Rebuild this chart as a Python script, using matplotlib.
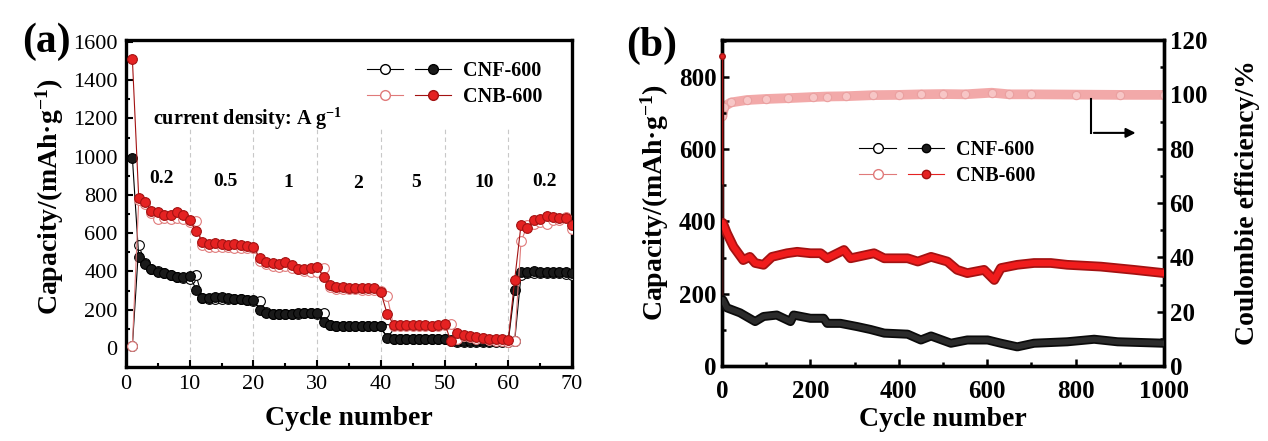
import matplotlib
matplotlib.use("Agg")
import matplotlib.pyplot as plt
from matplotlib.lines import Line2D
from matplotlib.legend_handler import HandlerTuple
from matplotlib.ticker import MultipleLocator

plt.rcParams['font.family'] = ['Liberation Serif', 'DejaVu Serif']
plt.rcParams['font.weight'] = 'bold'
plt.rcParams['mathtext.fontset'] = 'custom'
plt.rcParams['mathtext.rm'] = 'Liberation Serif:bold'
plt.rcParams['mathtext.it'] = 'Liberation Serif:bold'
plt.rcParams['mathtext.bf'] = 'Liberation Serif:bold'

# ---- panel (a): rate performance ----
cycles_a = list(range(1, 71))
cnf_dis = [995, 475, 440, 410, 398, 390, 380, 372, 372, 378,
           305, 262, 262, 265, 265, 260, 258, 255, 252, 248,
           200, 180, 178, 176, 176, 178, 182, 182, 182, 180,
           135, 118, 115, 115, 115, 115, 115, 115, 115, 112,
           52, 46, 45, 45, 45, 45, 45, 45, 45, 45,
           38, 36, 35, 35, 35, 35, 35, 35, 35, 35,
           305, 395, 395, 400, 398, 395, 395, 395, 398, 392]
cnf_chg = [10, 537, 445, 415, 400, 392, 382, 372, 365, 362,
           380, 260, 258, 258, 257, 256, 255, 254, 252, 245,
           245, 185, 178, 178, 177, 178, 178, 180, 180, 178,
           182, 122, 115, 115, 115, 115, 115, 115, 114, 114,
           100, 48, 45, 45, 45, 45, 45, 45, 45, 45,
           40, 32, 32, 32, 32, 32, 32, 32, 32, 32,
           35, 380, 390, 392, 392, 390, 390, 390, 388, 380]
cnb_dis = [1510, 783, 763, 715, 710, 696, 693, 710, 693, 667,
           612, 554, 545, 548, 545, 540, 545, 538, 535, 530,
           468, 450, 442, 440, 450, 435, 415, 410, 418, 425,
           369, 329, 318, 316, 315, 314, 313, 312, 312, 290,
           177, 122, 122, 121, 120, 118, 118, 115, 122, 127,
           36, 78, 69, 61, 55, 50, 48, 46, 45, 43,
           355, 644, 628, 667, 675, 690, 685, 680, 680, 641]
cnb_chg = [12, 771, 750, 705, 675, 680, 672, 678, 675, 660,
           664, 540, 530, 528, 525, 525, 522, 522, 520, 520,
           455, 440, 430, 425, 430, 420, 410, 400, 395, 395,
           419, 318, 308, 308, 306, 306, 305, 305, 305, 300,
           270, 112, 112, 112, 114, 112, 114, 115, 116, 118,
           125, 45, 60, 55, 45, 50, 40, 35, 35, 30,
           35, 557, 640, 650, 660, 650, 670, 670, 685, 624]
rate_labels = ['0.2', '0.5', '1', '2', '5', '10', '0.2']
rate_x = [5.5, 15.6, 25.4, 36.5, 45.6, 56.2, 65.7]
rate_y = [885, 870, 865, 860, 865, 865, 870]
step_lines = [10, 20, 30, 40, 50, 60]

# ---- panel (b): long cycling at high rate ----
cyc_b = [1, 2, 11, 26, 48, 63, 75, 94, 113, 147, 170, 200, 223, 238, 276, 291,
         344, 367, 420, 443, 473, 510, 532, 555, 593, 616, 631, 668, 706, 744,
         781, 857, 932, 1000]
cnb_cap = [858, 396, 368, 330, 293, 302, 285, 280, 302, 312, 316, 312, 312, 298,
           321, 298, 312, 298, 298, 289, 302, 289, 266, 257, 266, 238, 271, 280,
           285, 285, 280, 275, 266, 257]
cyc_b2 = [1, 2, 11, 41, 75, 94, 124, 155, 162, 200, 230, 238, 268, 306, 336, 367,
          420, 450, 473, 518, 555, 601, 631, 668, 706, 781, 842, 895, 1000]
cnf_cap = [500, 183, 161, 147, 123, 137, 141, 123, 141, 132, 132, 118, 118, 109,
           101, 91, 88, 72, 83, 63, 72, 72, 63, 53, 63, 67, 74, 67, 63]
cyc_ce = [1, 5, 20, 56, 100, 150, 206, 237, 280, 342, 400, 450, 500, 550, 610,
          650, 700, 800, 900, 1000]
cnb_ce = [92, 95.5, 97, 97.9, 98.3, 98.6, 99, 99.2, 99.3, 99.7, 99.8, 100, 100.1,
          100, 100.6, 100, 100, 99.9, 99.8, 99.8]

RED = '#e52222'
RED_E = '#a31212'
PINK = '#e07a7a'
PINK_B = '#f2a9a9'

fig = plt.figure(figsize=(12.68, 4.41), dpi=100)
ax1 = fig.add_axes([126/1268, 1-367/441, 446/1268, 327/441])
ax2 = fig.add_axes([722/1268, 1-366/441, 442/1268, 326/441])
ax3 = ax2.twinx()

# panel (a)
for xv in step_lines:
    ax1.plot([xv, xv], [-100, 1150], ls=(0, (4, 3)), color='#c8c8c8', lw=0.8, zorder=1)
ax1.plot(cycles_a, cnf_chg, '-', color='black', lw=0.8, marker='o', ms=7,
         mfc='white', mec='black', mew=0.8, zorder=3)
ax1.plot(cycles_a, cnf_dis, '-', color='black', lw=0.8, marker='o', ms=7,
         mfc='#1a1a1a', mec='black', mew=0.8, zorder=3)
ax1.plot(cycles_a, cnb_chg, '-', color=PINK, lw=0.8, marker='o', ms=7,
         mfc='white', mec=PINK, mew=0.8, zorder=4)
ax1.plot(cycles_a, cnb_dis, '-', color=RED_E, lw=0.8, marker='o', ms=7,
         mfc=RED, mec=RED_E, mew=0.8, zorder=4)
for lab, xv, yv in zip(rate_labels, rate_x, rate_y):
    ax1.text(xv, yv, lab, ha='center', va='center', fontsize=14, fontweight='bold')
ax1.text(4.2, 1200, 'current density: A g$^{\\mathbf{-1}}$', ha='left', va='center',
         fontsize=14.5, fontweight='bold')
ax1.set_xlim(0, 70)
ax1.set_ylim(-100, 1610)
ax1.xaxis.set_major_locator(MultipleLocator(10))
ax1.xaxis.set_minor_locator(MultipleLocator(5))
ax1.yaxis.set_minor_locator(MultipleLocator(100))
ax1.set_yticks([0, 200, 400, 600, 800, 1000, 1200, 1400, 1600])
ax1.tick_params(which='both', direction='in', width=1.5)
ax1.tick_params(which='major', length=5, labelsize=16, pad=6)
ax1.tick_params(which='minor', length=3)
for lab in ax1.get_xticklabels() + ax1.get_yticklabels():
    lab.set_fontweight('normal')
ax1.set_xlabel('Cycle number', fontsize=20, fontweight='bold')
ax1.set_ylabel('Capacity/(mAh·g$^{\\mathbf{-1}}$)', fontsize=20, fontweight='bold')
ax1.xaxis.set_label_coords(0.5, -0.12)
ax1.yaxis.set_label_coords(-0.135, 0.52)
for sp in ax1.spines.values():
    sp.set_linewidth(2.4)

h1 = (Line2D([], [], color='black', lw=0.8, marker='o', ms=7, mfc='white', mec='black'),
      Line2D([], [], color='black', lw=0.8, marker='o', ms=7, mfc='#1a1a1a', mec='black'))
h2 = (Line2D([], [], color=PINK, lw=0.8, marker='o', ms=7, mfc='white', mec=PINK),
      Line2D([], [], color=RED_E, lw=0.8, marker='o', ms=7, mfc=RED, mec=RED_E))
ax1.legend([h1, h2], ['CNF-600', 'CNB-600'],
           handler_map={tuple: HandlerTuple(ndivide=None, pad=0.6)},
           loc='upper right', bbox_to_anchor=(0.975, 0.99), frameon=False,
           handlelength=4.2, labelspacing=0.3, handletextpad=0.6,
           prop={'weight': 'bold', 'size': 14.5})

# panel (b)
ax3.plot(cyc_ce, cnb_ce, '-', color=PINK_B, lw=7, solid_capstyle='round', zorder=2)
ax3.plot(cyc_ce, cnb_ce, 'o', ms=6, mfc='#f7c6c6', mec='#eaa0a0', mew=0.8, zorder=3)
ax3.set_ylim(0, 120)
ax3.yaxis.set_major_locator(MultipleLocator(20))
ax3.yaxis.set_minor_locator(MultipleLocator(10))

# first-cycle points drawn thin, the rest as a dense thick band
ax2.plot(cyc_b[:2], cnb_cap[:2], '-', color=RED_E, lw=1.2, zorder=3)
ax2.plot(cyc_b2[:2], cnf_cap[:2], '-', color='#3a1010', lw=1.2, zorder=3)
ax2.plot(cyc_b[1:], cnb_cap[1:], '-', color=RED_E, lw=7, solid_capstyle='round', zorder=3)
ax2.plot(cyc_b[1:], cnb_cap[1:], '-', color='#f01c1c', lw=4.5, solid_capstyle='round', zorder=4)
ax2.plot(cyc_b2[1:], cnf_cap[1:], '-', color='#0a0a0a', lw=6.5, solid_capstyle='round', zorder=3)
ax2.plot(cyc_b2[1:], cnf_cap[1:], '-', color='#2b2b2b', lw=4, solid_capstyle='round', zorder=4)
ax2.plot(cyc_b[0], cnb_cap[0], 'o', ms=4, mfc=RED, mec=RED_E, zorder=5, clip_on=False)
ax2.set_zorder(ax3.get_zorder() + 1)
ax2.patch.set_visible(False)
ax2.set_xlim(0, 1000)
ax2.set_ylim(0, 902)
ax2.xaxis.set_major_locator(MultipleLocator(200))
ax2.xaxis.set_minor_locator(MultipleLocator(100))
ax2.yaxis.set_major_locator(MultipleLocator(200))
ax2.yaxis.set_minor_locator(MultipleLocator(100))
for a in (ax2, ax3):
    a.tick_params(which='both', direction='in', width=1.8)
    a.tick_params(which='major', length=5, labelsize=18, pad=4)
    a.tick_params(which='minor', length=3)
    for sp in a.spines.values():
        sp.set_linewidth(2.4)
ax2.tick_params(axis='x', pad=10)
ax2.set_xlabel('Cycle number', fontsize=20, fontweight='bold')
ax2.set_ylabel('Capacity/(mAh·g$^{\\mathbf{-1}}$)', fontsize=20, fontweight='bold')
ax3.set_ylabel('Coulombie efficiency/%', fontsize=20, fontweight='bold')
ax2.xaxis.set_label_coords(0.5, -0.125)
ax2.yaxis.set_label_coords(-0.115, 0.5)
ax3.yaxis.set_label_coords(1.16, 0.5)

g1 = (Line2D([], [], color='black', lw=0.8, marker='o', ms=7, mfc='white', mec='black'),
      Line2D([], [], color='black', lw=0.8, marker='o', ms=6, mfc='#1a1a1a', mec='black'))
g2 = (Line2D([], [], color=PINK, lw=0.8, marker='o', ms=7, mfc='white', mec=PINK),
      Line2D([], [], color=RED, lw=0.8, marker='o', ms=6, mfc=RED, mec=RED_E))
ax2.legend([g1, g2], ['CNF-600', 'CNB-600'],
           handler_map={tuple: HandlerTuple(ndivide=None, pad=0.6)},
           loc='upper left', bbox_to_anchor=(0.27, 0.75), frameon=False,
           handlelength=4.2, labelspacing=0.3, handletextpad=0.6,
           prop={'weight': 'bold', 'size': 14.5})

# arrow pointing to the right axis
ax2.annotate('', xy=(942, 645), xytext=(835, 645),
             arrowprops=dict(arrowstyle='-|>', color='black', lw=1.5, mutation_scale=14))
ax2.plot([835, 835], [645, 740], color='black', lw=1.5)

fig.text(22/1268, 1-42/441, '(a)', fontsize=30, fontweight='bold', va='center', ha='left')
fig.text(626/1268, 1-46/441, '(b)', fontsize=30, fontweight='bold', va='center', ha='left')

fig.savefig('out.png', dpi=100, facecolor='white')
